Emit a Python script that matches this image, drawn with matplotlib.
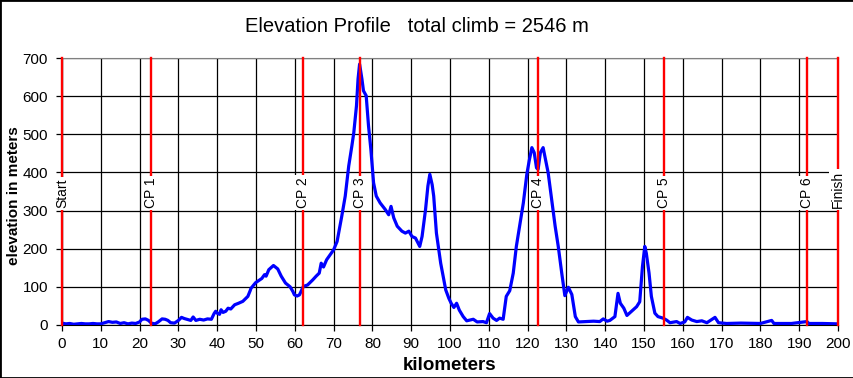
import matplotlib
matplotlib.use("Agg")
import matplotlib.pyplot as plt
from matplotlib.patches import Rectangle

plt.rcParams['font.family'] = ['Liberation Sans', 'DejaVu Sans']

title = "Elevation Profile   total climb = 2546 m"

km = [0, 1, 2, 3, 4, 5, 6, 7, 8, 9, 10, 11, 12, 13, 14, 15, 16, 17, 18, 19, 20,
      20.6, 21.5, 22.3, 23, 24, 24.8, 25.8, 26.6, 27.3, 28, 29, 30, 30.8, 31.5,
      32.5, 33.2, 33.8, 34.5, 35.5, 36.5, 37.5, 38.5, 39.2, 39.6, 40, 40.6, 41,
      41.5, 42.2, 42.8, 43.5, 44.5, 45.5, 46.6, 47.9, 48.5, 48.7, 49.9, 50.9,
      51.5, 52.2, 52.6, 53.3, 54.5, 55.6, 56.5, 57.6, 58.8, 59.5, 59.9, 60.6,
      61.2, 62.2, 63.3, 64.6, 65.5, 66.3, 66.8, 67.4, 68.2, 70, 70.9, 72.1, 73,
      73.9, 74.7, 75.2, 75.9, 76.3, 76.7, 77.3, 77.7, 78.4, 79, 79.6, 80.3, 81,
      82, 83.3, 84.2, 84.8, 85.5, 86.4, 87.6, 88.5, 89.4, 90.2, 91.1, 92.2, 92.8,
      93.7, 94.3, 94.8, 95.4, 95.8, 96.5, 97.6, 98.9, 99.7, 100.3, 101, 101.7,
      102.4, 103.4, 104.3, 106, 107, 108.5, 109.4, 110.2, 111.1, 112, 112.8,
      113.7, 114.5, 115.4, 116.3, 117.1, 118, 118.9, 119.8, 120.4, 121.1, 121.7,
      122.3, 122.7, 123.3, 124, 124.6, 125.3, 126.2, 127.1, 127.9, 128.8, 129.6,
      130.5, 131.4, 132.3, 133.1, 135, 137, 138.6, 139.5, 140.5, 141.2, 142.5,
      143.3, 143.9, 144.8, 145.6, 146.7, 148.1, 148.9, 149.6, 150.2, 150.6,
      151.3, 151.9, 152.8, 153.6, 154.9, 155.8, 156.7, 158.4, 159.3, 160.5,
      161.2, 162.3, 163.6, 164.9, 166.2, 168.3, 169.2, 171.3, 175, 180, 182.9,
      183.5, 188, 192, 192.5, 196, 200]

elev = [5, 3, 4, 2, 3, 4, 3, 3, 4, 3, 3, 6, 9, 7, 8, 4, 6, 3, 5, 4, 8,
        15, 16, 12, 5, 3, 8, 16, 15, 12, 6, 5, 12, 20, 17,
        14, 12, 21, 12, 15, 13, 16, 15, 30, 36, 31, 28, 40,
        33, 36, 44, 42, 53, 57, 62, 75, 90, 96, 111, 118,
        122, 132, 128, 145, 156, 147, 128, 110, 100, 88, 79, 76,
        79, 101, 105, 118, 128, 136, 162, 152, 171, 197, 219, 285, 338,
        417, 469, 504, 575, 645, 684, 645, 614, 601, 522, 461, 373, 338,
        320, 303, 289, 311, 281, 259, 246, 241, 246, 232, 228, 206, 232,
        303, 364, 395, 368, 338, 241, 162, 92, 70, 57, 46, 57,
        39, 22, 11, 15, 8, 9, 6, 30, 18, 12, 18,
        15, 75, 90, 136, 206, 263, 320, 395, 430, 465, 452,
        412, 408, 452, 465, 434, 399, 329, 259, 206, 136, 77,
        99, 80, 22, 8, 9, 10, 9, 16, 10, 12, 22,
        83, 57, 44, 25, 35, 48, 61, 153, 206, 188,
        136, 75, 31, 22, 18, 13, 6, 9, 4, 8,
        20, 13, 9, 11, 6, 20, 6, 4, 5, 4, 12,
        4, 4, 9, 4, 4, 3]

checkpoint_km = [0, 22.9, 62.1, 76.9, 122.7, 155.2, 192.0, 200]
checkpoint_labels = ["Start", "CP 1", "CP 2", "CP 3", "CP 4", "CP 5", "CP 6", "Finish"]

x_ticks = list(range(0, 201, 10))
y_ticks = list(range(0, 701, 100))

fig = plt.figure(figsize=(8.54, 3.78), dpi=100)
ax = fig.add_axes([62/854, 53/378, 776/854, 267/378])

ax.set_xlim(0, 200)
ax.set_ylim(0, 700)
ax.set_xticks(x_ticks)
ax.set_yticks(y_ticks)
ax.grid(True, color='black', linewidth=0.9, zorder=1)
ax.set_axisbelow(True)

ax.plot(km, elev, color='#0000FF', linewidth=2.3, zorder=3, solid_joinstyle='round')

for cx, lab in zip(checkpoint_km, checkpoint_labels):
    ax.axvline(cx, color='#FF0000', linewidth=1.7, zorder=4, clip_on=False)
    ax.text(cx, 306, lab, rotation=90, ha='center', va='bottom', fontsize=10,
            zorder=5, bbox=dict(facecolor='white', edgecolor='none', pad=1.5))

for s in ['top', 'right']:
    ax.spines[s].set_color('#808080')
for s in ['left', 'bottom']:
    ax.spines[s].set_color('black')

ax.tick_params(axis='both', direction='out', length=4, width=0.9, labelsize=11, colors='black')
ax.tick_params(axis='x', pad=5)
ax.tick_params(axis='y', pad=6)

fig.text(417/854, 1 - 27/378, title, ha='center', va='center', fontsize=14.5)
fig.text(14/854, 1 - 196/378, "elevation in meters", rotation=90, ha='center', va='center',
         fontsize=11, fontweight='bold')
fig.text(450/854, 1 - 366/378, "kilometers", ha='center', va='center', fontsize=13.5,
         fontweight='bold')

fig.patches.append(Rectangle((0, 0), 1, 1, transform=fig.transFigure, fill=False,
                             edgecolor='black', linewidth=2))

fig.savefig("out.png", dpi=100)
